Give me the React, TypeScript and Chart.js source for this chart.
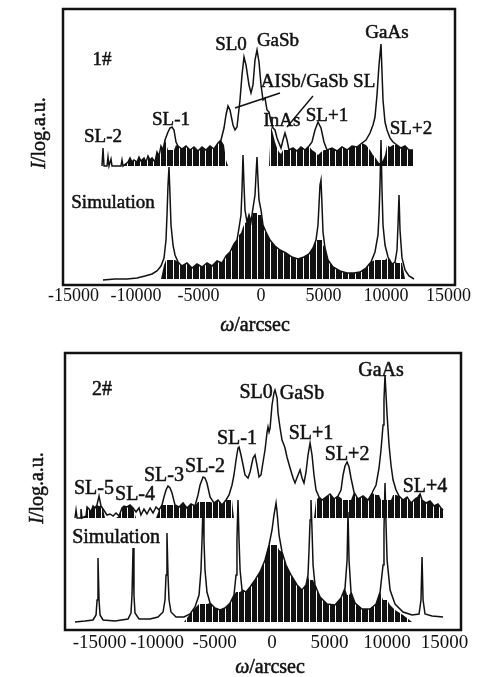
import { useEffect, useRef } from "react";
import { Chart, registerables } from "chart.js";

Chart.register(...registerables);

const FONT = '"Liberation Serif", "Times New Roman", serif';

// ---------- Sample 1# (top panel) : omega (arcsec) vs log intensity (a.u.) ----------
const topExpX = [-12720,-12640,-12560,-12320,-12240,-12160,-12000,-11920,-11200,-11120,-11040,-10640,-10480,-10320,-10160,-9920,-9760,-9600,-9360,-9200,-9040,-8880,-8720,-8480,-8320,-8160,-8000,-7840,-7680,-7440,-7280,-7120,-6960,-6800,-6640,-6320,-6000,-5680,-5360,-5040,-4720,-4400,-4080,-3760,-3440,-3200,-2960,-2800,-2640,-2480,-2240,-2080,-1920,-1680,-1520,-1360,-1200,-960,-800,-640,-480,-320,-160,0,160,320,480,640,800,960,1120,1280,1440,1600,1760,1920,2080,2240,2560,2880,3200,3520,3840,4080,4320,4560,4800,5040,5280,5680,6080,6480,6880,7280,7680,8080,8400,8720,8960,9120,9280,9440,9600,9760,9920,10080,10320,10560,10880,11200,11520,11840,12160];
const topExpHi = [119,137,119,119,128,119,126,119,119,125,119,123,127,123,125,123,128,124,127,123,129,125,127,123,133,129,139,135,145,153,157,158,155,143,139,136,139,135,138,134,138,135,139,136,142,145,157,170,179,175,160,155,158,185,210,228,220,200,192,200,225,235,223,200,185,187,175,173,163,157,155,147,142,137,145,152,145,135,137,134,138,135,139,143,155,163,157,143,135,137,134,138,135,139,138,142,145,152,160,168,190,220,241,185,163,155,147,143,140,137,139,135,135];
const topExpBand = [119,119,119,119,119,119,119,119,119,119,119,123,127,123,125,123,128,124,127,123,129,125,127,123,133,129,139,135,145,135,135,135,135,140,139,136,139,135,138,134,138,135,139,136,142,145,140,125,119,119,119,119,119,119,119,119,119,119,119,119,119,119,119,119,119,119,119,119,159,151,143,137,133,131,135,135,135,135,137,134,138,135,139,135,133,130,133,135,135,137,134,138,135,139,138,142,140,135,130,128,125,122,122,125,130,140,138,140,140,137,139,135,135];
const topExpFloor = 119;

const topSimX = [-12640,-11680,-10720,-9920,-9280,-8720,-8320,-8000,-7760,-7600,-7520,-7440,-7360,-7280,-7200,-7040,-6880,-6640,-6320,-5920,-5520,-5120,-4720,-4320,-3920,-3520,-3120,-2800,-2480,-2160,-1920,-1760,-1600,-1520,-1440,-1360,-1280,-1120,-960,-800,-640,-480,-400,-320,-240,-160,0,160,400,720,1120,1520,2000,2480,2960,3440,3840,4160,4400,4560,4640,4720,4800,4880,4960,5120,5360,5760,6320,6880,7440,7920,8400,8800,9120,9360,9440,9520,9600,9680,9760,9920,10160,10480,10720,10880,10960,11040,11120,11280,11520,11840,12240];
const topSimHi = [5,6,6,7,9,11,14,19,27,45,70,100,118,90,60,40,30,23,19,22,17,21,18,22,19,24,22,29,33,41,45,57,70,95,130,100,75,63,70,63,77,90,110,128,105,85,75,60,53,45,39,35,32,28,26,28,31,37,45,60,80,100,105,80,53,37,25,18,14,12,12,13,17,23,33,50,70,100,145,95,60,40,28,21,23,35,60,90,55,27,15,9,6];
const topSimBand = [6,6,6,6,6,6,6,6,20,25,25,25,25,25,25,25,25,23,19,22,17,21,18,22,19,24,22,29,33,41,45,50,52,55,58,60,62,63,70,63,72,72,72,72,70,70,70,60,53,45,39,35,32,28,26,28,31,37,45,45,45,45,45,45,40,37,25,18,14,12,12,13,17,23,25,25,25,25,25,25,25,25,28,21,23,22,22,22,22,22,6,6,6];
const topSimFloor = 6;

// ---------- Sample 2# (bottom panel) ----------
const botExpX = [-17140,-17050,-16960,-16700,-16620,-16530,-16180,-16090,-15920,-15750,-15570,-15400,-15230,-15050,-14880,-14700,-14530,-14360,-14090,-13830,-13570,-13310,-13050,-12880,-12620,-12350,-12090,-11830,-11570,-11400,-11140,-10880,-10610,-10350,-10090,-9830,-9570,-9400,-9220,-9050,-8870,-8700,-8440,-8090,-7740,-7400,-7050,-6700,-6440,-6260,-6000,-5830,-5660,-5390,-5050,-4700,-4350,-4000,-3740,-3480,-3310,-3130,-2960,-2870,-2700,-2520,-2350,-2090,-1910,-1650,-1480,-1310,-1130,-960,-780,-610,-430,-350,-260,-170,0,170,260,440,520,700,870,1040,1130,1300,1570,1830,2000,2260,2440,2610,2780,2960,3130,3310,3480,3650,3830,4090,4350,4700,5050,5390,5740,6000,6180,6350,6530,6700,6870,7130,7480,7920,8350,8700,9050,9310,9480,9660,9740,9830,9920,10010,10180,10350,10530,10790,11050,11400,11750,12090,12440,12700,12880,13050,13400,13750,14100,14440,14700,14880];
const botExpHi = [112,120,112,112,121,112,114,123,121,118,124,122,125,134,124,121,118,115,116,114,117,114,122,124,123,125,122,118,122,115,121,116,122,117,123,120,125,133,140,144,142,137,125,123,127,122,126,124,135,145,153,152,147,133,127,130,125,130,135,145,155,170,182,183,175,165,155,152,158,172,175,165,153,155,168,180,198,203,198,202,225,237,240,232,217,202,190,185,182,173,162,152,147,155,160,152,147,158,175,187,175,155,140,133,130,133,136,131,134,140,155,164,168,163,152,138,131,134,130,137,145,162,180,205,230,255,235,215,185,165,150,140,134,130,133,127,131,133,136,130,127,129,124,126,122,120];
const botExpBand = [112,112,112,112,112,112,114,123,121,118,124,122,125,124,124,121,112,112,112,112,112,114,122,124,123,125,122,112,112,112,112,112,112,112,112,120,125,125,125,125,125,125,125,123,127,122,126,124,128,128,128,128,128,128,127,130,125,130,130,130,112,112,112,112,112,112,112,112,112,112,112,112,112,112,112,112,112,112,112,112,112,112,112,112,112,112,112,112,112,112,112,112,112,112,112,112,112,112,112,112,112,112,130,133,130,133,136,131,134,132,130,130,130,130,130,138,131,134,130,137,135,135,130,130,130,130,130,130,130,130,135,135,134,130,133,127,131,133,136,130,127,129,124,126,122,120];
const botExpFloor = 112;

const botSimX = [-17140,-16270,-15570,-15310,-15220,-15140,-15050,-14960,-14700,-13660,-12530,-12270,-12180,-12090,-12010,-11920,-11570,-10610,-9920,-9480,-9310,-9220,-9140,-9050,-8960,-8790,-8350,-7660,-7130,-6700,-6350,-6180,-6090,-6000,-5920,-5830,-5660,-5390,-4960,-4520,-4090,-3650,-3310,-3130,-3050,-2960,-2870,-2780,-2610,-2260,-1910,-1480,-1040,-610,-260,0,170,350,440,610,870,1220,1650,2180,2610,2960,3130,3220,3310,3390,3480,3570,3740,4180,4790,5480,6000,6350,6530,6610,6700,6870,7220,7830,8530,9050,9400,9660,9740,9830,9920,10010,10270,10700,11400,12180,12790,12960,13050,13140,13310,13920,14880];
const botSimHi = [8,9,10,15,30,72,30,15,10,9,11,17,35,82,35,17,11,11,13,18,30,55,97,55,30,18,13,13,16,23,35,60,90,125,90,60,38,27,22,20,22,27,35,55,90,130,90,60,40,38,43,50,58,70,85,100,115,127,118,95,78,65,55,45,40,45,55,80,110,130,100,65,45,33,26,25,32,42,70,118,70,38,27,21,21,26,38,65,100,147,105,70,40,26,18,15,16,30,73,30,16,14,13];
const botSimBand = [8,8,8,8,8,8,8,8,8,8,8,8,8,8,8,8,8,8,8,8,8,8,8,8,8,8,8,8,16,22,26,26,26,26,26,26,26,27,22,20,22,27,35,38,38,38,38,38,40,38,43,50,58,70,85,85,85,85,85,80,78,65,55,45,40,45,55,50,50,50,50,50,45,33,26,25,32,42,35,35,35,38,27,21,21,26,38,30,30,30,30,30,25,20,15,8,8,8,8,8,8,8,8];
const botSimFloor = 8;

// ---------- axes ----------
const tickValues = [-15000, -10000, -5000, 0, 5000, 10000, 15000];
const topRange = [-15840, 15520];
const botRange = [-18010, 16440];
const topYRange = [0, 276];
const botYRange = [0, 277];

// ---------- annotation texts (anchored in data units) ----------
const topLabels = [
  { text: "1#", x: -12720, y: 225 },
  { text: "SL0", x: -2400, y: 240 },
  { text: "GaSb", x: 1360, y: 244 },
  { text: "AISb/GaSb SL", x: 4560, y: 203 },
  { text: "InAs", x: 1680, y: 164 },
  { text: "SL+1", x: 5280, y: 169 },
  { text: "SL-1", x: -7200, y: 165 },
  { text: "SL-2", x: -12640, y: 148 },
  { text: "GaAs", x: 10080, y: 252 },
  { text: "SL+2", x: 12000, y: 156 },
  { text: "Simulation", x: -11840, y: 82 },
];
const topLeaders = [
  [[-2080, 177], [1520, 192]],
  [[2080, 158], [4160, 189]],
];
const botLabels = [
  { text: "2#", x: -14790, y: 240 },
  { text: "GaAs", x: 9480, y: 259 },
  { text: "SL0", x: -1390, y: 237 },
  { text: "GaSb", x: 2610, y: 236 },
  { text: "SL+1", x: 3390, y: 196 },
  { text: "SL-1", x: -3050, y: 191 },
  { text: "SL+2", x: 6530, y: 175 },
  { text: "SL-3", x: -9400, y: 154 },
  { text: "SL-2", x: -5830, y: 163 },
  { text: "SL-5", x: -15490, y: 141 },
  { text: "SL-4", x: -11920, y: 135 },
  { text: "SL+4", x: 13310, y: 143 },
  { text: "Simulation", x: -13570, y: 92 },
];

const INK = "#111";

function drawRich(ctx: CanvasRenderingContext2D, parts: [string, boolean][], cx: number, cy: number, size: number) {
  const widths = parts.map(([t, it]) => {
    ctx.font = `${it ? "italic " : ""}${size}px ${FONT}`;
    return ctx.measureText(t).width;
  });
  const total = widths.reduce((a, b) => a + b, 0);
  let x = cx - total / 2;
  ctx.textAlign = "left";
  ctx.textBaseline = "middle";
  parts.forEach(([t, it], i) => {
    ctx.font = `${it ? "italic " : ""}${size}px ${FONT}`;
    ctx.fillText(t, x, cy);
    ctx.strokeText(t, x, cy);
    x += widths[i];
  });
}

// dense vertical-streak texture used to render the noise bands
function makeNoisePattern(): CanvasPattern | string {
  const c = document.createElement("canvas");
  c.width = 13;
  c.height = 1;
  const g = c.getContext("2d");
  if (!g) return INK;
  g.fillStyle = INK;
  [0, 1, 2, 3, 5, 6, 7, 8, 9, 11, 12].forEach((i) => g.fillRect(i, 0, 1, 1));
  return g.createPattern(c, "repeat") || INK;
}

type PanelCfg = {
  canvasTop: number;
  canvasHeight: number;
  padding: { left: number; right: number; top: number; bottom: number };
  axisHeight: number;
  tickSize: number;
  tickPad: number;
  labelSize: number;
  xRange: number[];
  yRange: number[];
  expX: number[]; expHi: number[]; expBand: number[]; expFloor: number;
  simX: number[]; simHi: number[]; simBand: number[]; simFloor: number;
  labels: { text: string; x: number; y: number }[];
  leaders: number[][][];
  xTitle: { dx: number; dy: number };
  yTitle: { dx: number; y: number };
};

function Panel({ cfg }: { cfg: PanelCfg }) {
  const ref = useRef<HTMLCanvasElement | null>(null);
  useEffect(() => {
    if (!ref.current) return;
    const pattern = makeNoisePattern();
    const mk = (xs: number[], ys: number[]) => xs.map((x, i) => ({ x, y: ys[i] }));
    const line = (data: any) => ({
      data,
      borderColor: INK,
      borderWidth: 1.5,
      pointRadius: 0,
      tension: 0,
      fill: false,
    });
    const band = (data: any, floor: number) => ({
      data,
      borderColor: "rgba(0,0,0,0)",
      backgroundColor: pattern,
      borderWidth: 0,
      pointRadius: 0,
      tension: 0,
      fill: { value: floor },
    });
    const overlay = {
      id: "xrdOverlay",
      afterDraw(chart: any) {
        const { ctx, chartArea: a, scales } = chart;
        ctx.save();
        ctx.strokeStyle = INK;
        ctx.lineWidth = 2.5;
        ctx.strokeRect(a.left, a.top, a.right - a.left, a.bottom - a.top);
        ctx.fillStyle = INK;
        ctx.font = `${cfg.labelSize}px ${FONT}`;
        ctx.textAlign = "center";
        ctx.textBaseline = "middle";
        ctx.lineWidth = 0.5;
        for (const l of cfg.labels) {
          const px = scales.x.getPixelForValue(l.x);
          const py = scales.y.getPixelForValue(l.y);
          ctx.fillText(l.text, px, py);
          ctx.strokeText(l.text, px, py);
        }
        ctx.lineWidth = 1.4;
        for (const seg of cfg.leaders) {
          ctx.beginPath();
          ctx.moveTo(scales.x.getPixelForValue(seg[0][0]), scales.y.getPixelForValue(seg[0][1]));
          ctx.lineTo(scales.x.getPixelForValue(seg[1][0]), scales.y.getPixelForValue(seg[1][1]));
          ctx.stroke();
        }
        ctx.lineWidth = 0.5;
        drawRich(ctx, [["ω", true], ["/arcsec", false]], (a.left + a.right) / 2 + cfg.xTitle.dx, a.bottom + cfg.xTitle.dy, 20);
        ctx.save();
        ctx.translate(a.left + cfg.yTitle.dx, cfg.yTitle.y);
        ctx.rotate(-Math.PI / 2);
        drawRich(ctx, [["I", true], ["/log.a.u.", false]], 0, 0, 20);
        ctx.restore();
        ctx.restore();
      },
    };
    const chart = new Chart(ref.current, {
      type: "line",
      data: {
        datasets: [
          band(mk(cfg.expX, cfg.expBand), cfg.expFloor),
          line(mk(cfg.expX, cfg.expHi)),
          band(mk(cfg.simX, cfg.simBand), cfg.simFloor),
          line(mk(cfg.simX, cfg.simHi)),
        ] as any,
      },
      options: {
        animation: false,
        responsive: false,
        layout: { padding: cfg.padding },
        plugins: { legend: { display: false }, tooltip: { enabled: false } },
        scales: {
          x: {
            type: "linear",
            min: cfg.xRange[0],
            max: cfg.xRange[1],
            afterBuildTicks: (s: any) => {
              s.ticks = tickValues.map((v) => ({ value: v }));
            },
            afterFit: (s: any) => {
              s.height = cfg.axisHeight;
            },
            ticks: {
              autoSkip: false,
              maxRotation: 0,
              padding: cfg.tickPad,
              color: INK,
              font: { family: FONT, size: cfg.tickSize },
              callback: (v: any) => String(v),
            },
            grid: { display: false, drawTicks: false },
            border: { display: false },
          },
          y: { display: false, min: cfg.yRange[0], max: cfg.yRange[1] },
        },
      } as any,
      plugins: [overlay],
    });
    return () => chart.destroy();
  }, [cfg]);
  return (
    <canvas
      ref={ref}
      width={484}
      height={cfg.canvasHeight}
      style={{ position: "absolute", left: 0, top: cfg.canvasTop, width: 484, height: cfg.canvasHeight, display: "block" }}
    />
  );
}

const topCfg: PanelCfg = {
  canvasTop: 0,
  canvasHeight: 340,
  padding: { left: 63, right: 29, top: 9, bottom: 0 },
  axisHeight: 55,
  tickSize: 18,
  tickPad: 0,
  labelSize: 19,
  xRange: topRange,
  yRange: topYRange,
  expX: topExpX, expHi: topExpHi, expBand: topExpBand, expFloor: topExpFloor,
  simX: topSimX, simHi: topSimHi, simBand: topSimBand, simFloor: topSimFloor,
  labels: topLabels,
  leaders: topLeaders,
  xTitle: { dx: -4, dy: 41 },
  yTitle: { dx: -23, y: 133 },
};

const botCfg: PanelCfg = {
  canvasTop: 340,
  canvasHeight: 337,
  padding: { left: 65, right: 23, top: 13, bottom: 0 },
  axisHeight: 47,
  tickSize: 19,
  tickPad: 2,
  labelSize: 20,
  xRange: botRange,
  yRange: botYRange,
  expX: botExpX, expHi: botExpHi, expBand: botExpBand, expFloor: botExpFloor,
  simX: botSimX, simHi: botSimHi, simBand: botSimBand, simFloor: botSimFloor,
  labels: botLabels,
  leaders: [],
  xTitle: { dx: 7, dy: 38 },
  yTitle: { dx: -27, y: 148 },
};

export default function App() {
  return (
    <div style={{ position: "absolute", left: 0, top: 0, width: 484, height: 677, background: "#fff", overflow: "hidden" }}>
      <Panel cfg={topCfg} />
      <Panel cfg={botCfg} />
    </div>
  );
}
